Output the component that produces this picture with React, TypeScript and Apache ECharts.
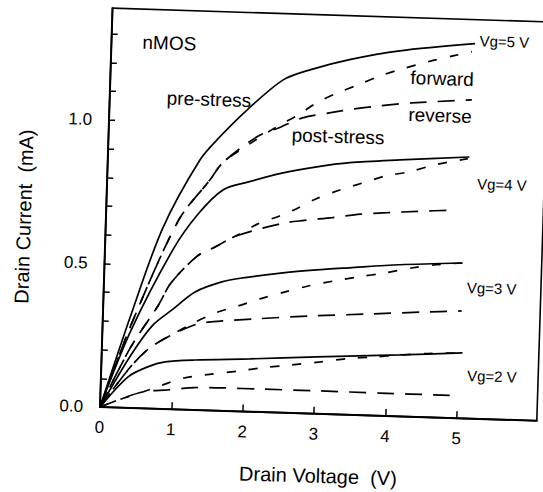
import React, { useEffect, useRef } from "react";
import * as echarts from "echarts";

// Drain voltage (V) / drain current (mA) pairs
const vg5Pre: number[][] = [[0, 0], [0.4, 0.33], [0.8, 0.63], [1.29, 0.871], [1.56, 0.954], [1.93, 1.051], [2.42, 1.159], [2.79, 1.197], [3.34, 1.237], [4.04, 1.273], [5.09, 1.306]];
const vg5Fwd: number[][] = [[0, 0], [0.4, 0.29], [1.02, 0.66], [1.44, 0.803], [1.61, 0.864], [1.96, 0.929], [2.35, 0.995], [2.65, 1.039], [2.9, 1.083], [3.19, 1.12], [3.47, 1.15], [3.78, 1.184], [4.09, 1.211], [4.44, 1.238], [4.8, 1.262], [5.05, 1.278]];
const vg5Rev: number[][] = [[0, 0], [0.4, 0.29], [1.02, 0.66], [1.44, 0.803], [1.61, 0.864], [2.08, 0.958], [2.41, 0.995], [2.71, 1.029], [3.1, 1.05], [3.43, 1.066], [3.81, 1.08], [4.23, 1.093], [5.07, 1.11]];

const vg4Pre: number[][] = [[0, 0], [0.4, 0.27], [0.95, 0.555], [1.28, 0.68], [1.63, 0.77], [1.98, 0.8], [2.46, 0.835], [2.93, 0.86], [3.39, 0.878], [4.09, 0.893], [5.06, 0.911]];
const vg4Fwd: number[][] = [[0, 0], [0.4, 0.21], [0.77, 0.36], [0.94, 0.44], [1.29, 0.535], [1.54, 0.57], [1.85, 0.614], [2.13, 0.655], [2.43, 0.685], [2.65, 0.71], [2.93, 0.748], [3.26, 0.782], [3.58, 0.809], [3.9, 0.836], [4.23, 0.853], [4.58, 0.88], [5.04, 0.905]];
const vg4Rev: number[][] = [[0, 0], [0.4, 0.21], [0.77, 0.36], [0.94, 0.44], [1.29, 0.535], [1.54, 0.57], [1.85, 0.612], [2.48, 0.66], [2.78, 0.672], [3.17, 0.685], [3.56, 0.7], [3.94, 0.708], [4.36, 0.716], [4.91, 0.725]];

const vg3Pre: number[][] = [[0, 0], [0.4, 0.18], [0.7, 0.29], [0.965, 0.346], [1.28, 0.411], [1.65, 0.449], [1.94, 0.465], [2.5, 0.487], [2.97, 0.501], [3.43, 0.512], [4.13, 0.528], [5.01, 0.541]];
const vg3Fwd: number[][] = [[0, 0], [0.4, 0.14], [0.67, 0.211], [0.975, 0.26], [1.25, 0.3], [1.57, 0.34], [1.89, 0.367], [2.19, 0.394], [2.54, 0.421], [2.86, 0.444], [3.23, 0.465], [3.55, 0.481], [3.93, 0.498], [4.3, 0.518], [4.64, 0.532], [5.01, 0.541]];
const vg3Rev: number[][] = [[0, 0], [0.4, 0.14], [0.67, 0.211], [0.975, 0.259], [1.33, 0.3], [1.68, 0.313], [2.14, 0.324], [2.9, 0.34], [3.71, 0.353], [4.48, 0.366], [5.02, 0.374]];

const vg2Pre: number[][] = [[0, 0], [0.38, 0.108], [0.65, 0.145], [0.89, 0.164], [1.31, 0.174], [2.08, 0.184], [3.01, 0.198], [4.17, 0.214], [5.05, 0.228]];
const vg2Fwd: number[][] = [[0, 0], [0.25, 0.026], [0.59, 0.057], [0.86, 0.083], [1.13, 0.108], [1.55, 0.127], [1.94, 0.141], [2.25, 0.154], [2.64, 0.167], [3.07, 0.181], [3.45, 0.196], [3.8, 0.204], [4.2, 0.214], [4.56, 0.222], [4.96, 0.227]];
const vg2Rev: number[][] = [[0, 0], [0.25, 0.026], [0.59, 0.057], [0.94, 0.067], [1.32, 0.078], [1.75, 0.08], [2.2, 0.08], [3.07, 0.08], [3.91, 0.079], [4.89, 0.079]];

const xLabelValues = [0, 1, 2, 3, 4, 5];
const xTickValues = [1, 2, 3, 4, 5];
const yLabelValues = [0, 0.5, 1.0];
const yTickValues = [0.1, 0.2, 0.3, 0.4, 0.5, 0.6, 0.7, 0.8, 0.9, 1.0, 1.1, 1.2, 1.3];

const xTitle = "Drain Voltage  (V)";
const yTitle = "Drain Current  (mA)";

const FONT = '"Liberation Sans", Arial, Helvetica, sans-serif';

export default function App() {
  const ref = useRef<HTMLDivElement>(null);
  useEffect(() => {
    if (!ref.current) return;
    const chart = echarts.init(ref.current, undefined, { renderer: "svg" });
    const solid = "solid" as const;
    const fwdDash = [9, 13];
    const revDash = [17, 11];
    const curves: [string, number[][], any][] = [
      ["Vg5 pre-stress", vg5Pre, solid],
      ["Vg5 forward", vg5Fwd, fwdDash],
      ["Vg5 reverse", vg5Rev, revDash],
      ["Vg4 pre-stress", vg4Pre, solid],
      ["Vg4 forward", vg4Fwd, fwdDash],
      ["Vg4 reverse", vg4Rev, revDash],
      ["Vg3 pre-stress", vg3Pre, solid],
      ["Vg3 forward", vg3Fwd, fwdDash],
      ["Vg3 reverse", vg3Rev, revDash],
      ["Vg2 pre-stress", vg2Pre, solid],
      ["Vg2 forward", vg2Fwd, fwdDash],
      ["Vg2 reverse", vg2Rev, revDash],
    ];
    const txt = (text: string, x: number, y: number, size: number, extra: any = {}) => ({
      type: "text",
      x,
      y,
      silent: true,
      ...extra,
      style: {
        text,
        fill: "#000",
        fontSize: size,
        fontFamily: FONT,
        align: extra.align || "left",
        verticalAlign: "middle",
      },
    });
    chart.setOption({
      animation: false,
      backgroundColor: "#ffffff",
      grid: {
        left: 100,
        top: 8,
        width: 437,
        height: 399,
        show: true,
        borderColor: "#000",
        borderWidth: 1.6,
      },
      xAxis: {
        type: "value",
        min: 0,
        max: 6.12,
        interval: 1,
        axisLine: { show: true, onZero: false, lineStyle: { color: "#000", width: 2 } },
        axisTick: { show: true, inside: true, length: 7, customValues: xTickValues, lineStyle: { color: "#000", width: 1.5 } },
        axisLabel: {
          show: true,
          customValues: xLabelValues,
          formatter: (v: number) => String(v),
          margin: 12,
          color: "#000",
          fontSize: 17,
          fontFamily: FONT,
        },
        splitLine: { show: false },
      },
      yAxis: {
        type: "value",
        min: 0,
        max: 1.39,
        interval: 0.1,
        axisLine: { show: true, onZero: false, lineStyle: { color: "#000", width: 2 } },
        axisTick: { show: true, inside: true, length: 6, customValues: yTickValues, lineStyle: { color: "#000", width: 1.5 } },
        axisLabel: {
          show: true,
          customValues: yLabelValues,
          formatter: (v: number) => v.toFixed(1),
          margin: 17,
          color: "#000",
          fontSize: 17,
          fontFamily: FONT,
        },
        splitLine: { show: false },
      },
      graphic: [
        txt(xTitle, 320, 469, 20, { align: "center" }),
        txt(yTitle, 18, 219, 20, { align: "center", rotation: Math.PI / 2 }),
        txt("nMOS", 131, 41, 19),
        txt("pre-stress", 157, 96, 19),
        txt("post-stress", 283, 129, 19),
        txt("forward", 400, 68, 19),
        txt("reverse", 399, 105, 19),
        txt("Vg=5 V", 468, 29, 15),
        txt("Vg=4 V", 470, 172, 15),
        txt("Vg=3 V", 463, 276, 15),
        txt("Vg=2 V", 466, 364, 15),
      ],
      series: curves.map(([name, data, type]) => ({
        name,
        type: "line",
        data,
        showSymbol: false,
        symbol: "none",
        smooth: 0.3,
        silent: true,
        lineStyle: { color: "#000", width: 1.7, type },
      })),
    });
    return () => chart.dispose();
  }, []);
  return (
    <div style={{ position: "absolute", left: 0, top: 0, width: 543, height: 492, overflow: "hidden", background: "#fff" }}>
      <div
        ref={ref}
        style={{
          position: "absolute",
          left: 0,
          top: 0,
          width: 543,
          height: 492,
          transform: "rotate(1.8deg)",
          transformOrigin: "100px 407px",
        }}
      />
    </div>
  );
}
